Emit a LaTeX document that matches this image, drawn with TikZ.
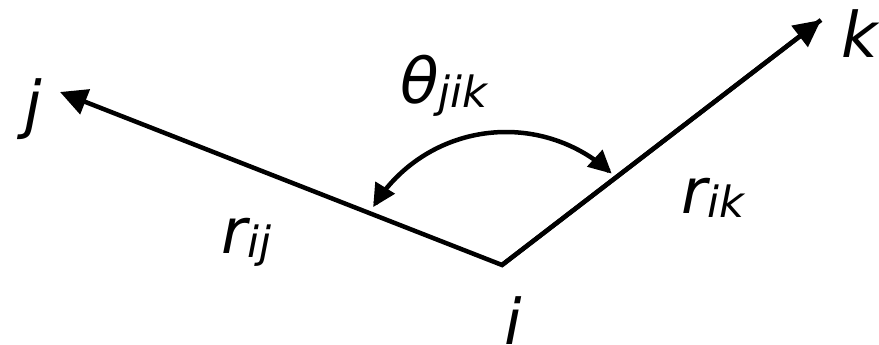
\documentclass[tikz,border=0pt]{standalone}
\usepackage{fontspec}
\setmainfont{DejaVu Sans}
\usetikzlibrary{arrows.meta}
\newcommand{\bigtxt}{\fontsize{63}{70}\selectfont\itshape}
\newcommand{\subtxt}[1]{\raisebox{-4pt}{\fontsize{43}{46}\selectfont\itshape #1}}
\begin{document}
\begin{tikzpicture}[x=1pt,y=-1pt,
  bond/.style={line width=4.5pt, -{Triangle[length=27pt,width=26pt]}},
  anglearc/.style={line width=4.5pt, {Triangle[length=23pt,width=22pt]}-{Triangle[length=23pt,width=22pt]}},
  lbl/.style={inner sep=0pt, font=\bigtxt}]
\useasboundingbox (0,0) rectangle (879,345);
\coordinate (v) at (502,265);
\coordinate (pj) at (60,92);
\coordinate (pk) at (821,20);
\draw[bond, line join=miter] (pk) -- (v) -- (pj);
\draw[bond] (v) -- (pk);
\draw[anglearc] plot[smooth, domain=-149:-47, samples=60] ({506+155*cos(\x)},{287+155*sin(\x)});
\node[lbl, anchor=base] (j) at (33,127) {j};
\node[lbl, anchor=base] (k) at (860,58) {k};
\node[lbl, anchor=base] (i) at (513,344) {i};
\node[lbl, anchor=base west] (rij) at (221,253) {r\subtxt{ij}};
\node[lbl, anchor=base west] (rik) at (681,213) {r\subtxt{ik}};
\node[lbl, anchor=base west] (th) at (400,103) {θ\subtxt{jik}};
\end{tikzpicture}
\end{document}
